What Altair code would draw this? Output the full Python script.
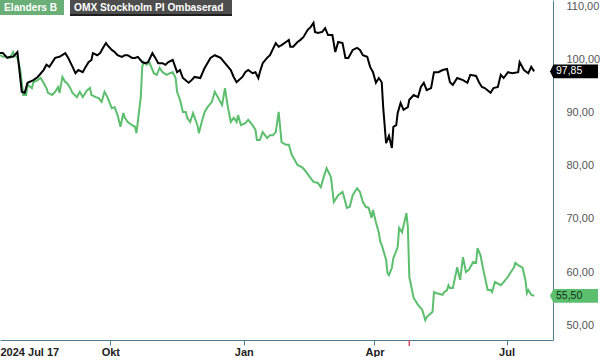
import altair as alt
import pandas as pd

# ---- data ----
START = "2024-07-17"

# OMX Stockholm PI (rebased) : days since start, value
omx_days = [0, 2, 5, 7, 9, 12, 15, 17, 19, 23, 26, 30, 32, 34, 38, 41, 45, 47, 50, 52,
            54, 57, 59, 61, 63, 64, 67, 69, 71, 73, 74, 77, 79, 81, 84, 86, 88, 91, 93, 95,
            98, 100, 102, 105, 107, 109, 112, 114, 116, 119, 122, 124, 126, 130, 132, 134, 138, 141, 145, 148,
            152, 155, 159, 161, 163, 167, 169, 171, 174, 176, 178, 179, 181, 184, 186, 190, 192, 194, 197, 199,
            200, 202, 205, 207, 209, 212, 214, 216, 217, 219, 222, 224, 226, 229, 231, 233, 236, 238, 240, 243,
            246, 248, 250, 253, 255, 257, 259, 261, 263, 264, 266, 268, 270, 271, 273, 274, 276, 278, 281, 282,
            285, 288, 290, 292, 294, 297, 299, 302, 305, 308, 310, 312, 315, 319, 322, 324, 328, 330, 332, 334,
            338, 340, 343, 345, 347, 350, 353, 357, 358, 361, 363, 364, 366, 368]
omx_vals = [101.3, 101.3, 100.4, 100.6, 100.6, 101.5, 94.0, 93.8, 95.7, 96.2, 96.8, 98.1, 99.1, 98.7, 100.4, 100.6, 101.3, 100.4, 98.7, 97.5,
            98.1, 97.7, 98.7, 99.6, 100.0, 101.3, 100.9, 101.3, 102.3, 103.2, 102.8, 101.9, 101.5, 100.9, 100.6, 100.9, 100.9, 100.4, 100.4, 100.6,
            99.6, 99.4, 99.6, 101.3, 100.4, 99.4, 99.4, 99.1, 99.6, 100.0, 97.7, 98.1, 96.6, 95.7, 96.2, 96.8, 96.6, 98.5, 100.4, 100.9,
            100.4, 99.4, 98.1, 96.8, 95.8, 96.8, 97.7, 98.1, 97.5, 97.7, 96.6, 97.7, 99.4, 100.4, 100.9, 103.2, 102.5, 102.8, 103.4, 103.8,
            102.5, 102.5, 103.4, 103.8, 104.3, 105.7, 106.2, 107.0, 105.3, 105.1, 105.3, 106.0, 104.7, 104.7, 101.5, 103.4, 103.2, 100.4, 100.4, 101.9,
            102.3, 101.9, 100.9, 100.6, 98.7, 97.7, 95.7, 96.6, 95.8, 91.1, 84.3, 85.7, 83.4, 87.4, 87.7, 90.0, 91.9, 90.6, 91.1, 92.5,
            93.4, 93.0, 94.9, 95.7, 94.3, 94.7, 97.7, 97.7, 98.1, 98.3, 95.8, 95.3, 96.6, 96.2, 95.7, 97.2, 97.0, 95.8, 94.9, 94.7,
            93.8, 94.7, 94.9, 97.2, 96.6, 97.7, 97.5, 97.7, 99.6, 98.1, 97.7, 97.5, 98.7, 97.85]

# Elanders B (rebased) : days since start, value
ela_days = [0, 2, 5, 7, 9, 10, 12, 14, 16, 18, 19, 22, 23, 26, 28, 30, 32, 33, 36, 38,
            40, 41, 43, 45, 46, 48, 50, 53, 55, 57, 60, 62, 63, 66, 68, 70, 72, 74, 77, 79,
            81, 83, 85, 86, 88, 91, 93, 94, 97, 98, 99, 101, 103, 106, 108, 110, 112, 115, 117, 119,
            121, 122, 124, 126, 128, 129, 131, 133, 136, 137, 139, 141, 143, 146, 148, 150, 153, 155, 157, 159,
            161, 163, 164, 166, 169, 171, 174, 176, 177, 179, 181, 184, 186, 188, 190, 192, 194, 197, 199, 201,
            205, 208, 210, 214, 216, 219, 221, 223, 225, 228, 230, 233, 236, 237, 239, 241, 243, 246, 248, 250,
            252, 254, 256, 257, 259, 261, 262, 263, 266, 267, 268, 270, 271, 274, 275, 277, 280, 281, 282, 285,
            288, 291, 293, 294, 298, 299, 301, 305, 306, 308, 309, 310, 312, 315, 317, 319, 321, 323, 324, 326,
            328, 329, 331, 333, 336, 338, 339, 341, 345, 347, 350, 352, 354, 355, 357, 360, 362, 363, 364, 366, 368]
ela_vals = [100.9, 100.6, 100.6, 100.4, 101.5, 100.9, 100.4, 98.1, 93.4, 93.4, 95.3, 94.7, 95.8, 96.2, 96.6, 95.7, 94.7, 93.8, 93.4, 94.0,
            94.9, 93.8, 96.8, 95.8, 95.7, 94.9, 93.8, 93.0, 94.0, 93.0, 94.3, 94.7, 93.4, 93.0, 92.8, 92.1, 94.0, 93.0, 90.9, 91.1,
            89.6, 87.4, 90.0, 89.1, 88.3, 87.7, 87.4, 86.2, 93.0, 98.7, 99.6, 99.1, 99.5, 97.5, 97.2, 98.5, 97.7, 97.2, 97.5, 97.7,
            96.6, 94.0, 92.5, 90.2, 90.2, 89.1, 88.3, 90.0, 87.7, 86.2, 88.3, 90.2, 91.1, 92.1, 94.0, 93.0, 91.5, 94.7, 91.1, 88.3,
            89.1, 88.3, 89.6, 87.7, 88.1, 88.7, 87.7, 86.8, 84.9, 84.9, 86.4, 85.3, 85.8, 85.8, 86.4, 90.2, 84.5, 84.0, 84.0, 82.1,
            80.2, 79.8, 79.2, 77.7, 77.0, 76.8, 76.0, 77.9, 79.6, 77.9, 73.2, 74.5, 75.1, 74.2, 72.1, 72.3, 74.5, 75.8, 75.1, 73.2,
            72.3, 72.1, 70.2, 71.7, 69.4, 67.4, 65.7, 65.1, 62.3, 59.8, 59.4, 60.8, 62.6, 64.7, 68.3, 67.5, 71.1, 68.5, 59.1, 55.1,
            53.8, 52.8, 50.9, 51.5, 52.5, 56.2, 56.0, 55.7, 56.2, 56.6, 57.5, 57.0, 57.0, 60.9, 58.5, 62.8, 60.0, 60.4, 60.9, 61.9,
            61.7, 64.5, 63.2, 60.4, 56.6, 56.6, 56.2, 58.1, 57.5, 58.1, 59.1, 60.0, 60.8, 61.7, 61.3, 60.8, 58.5, 56.0, 56.6, 55.7, 55.5]

series_names = ["Elanders B", "OMX Stockholm PI Ombaserad"]
series_colors = ["#5cbf6e", "#000000"]
last_labels = ["55,50", "97,85"]
last_values = [55.5, 97.85]
event_dates = ["2025-04-25"]
y_ticks = [50, 60, 70, 80, 90, 100, 110]

# ---- frames ----
start = pd.Timestamp(START)
df = pd.concat([
    pd.DataFrame({"date": start + pd.to_timedelta(ela_days, unit="D"), "value": ela_vals,
                  "series": series_names[0], "i": range(len(ela_days))}),
    pd.DataFrame({"date": start + pd.to_timedelta(omx_days, unit="D"), "value": omx_vals,
                  "series": series_names[1], "i": range(len(omx_days))}),
])
tags = pd.DataFrame({"series": series_names, "value": last_values, "label": last_labels,
                     "txt": ["#10301a", "#ffffff"]})
events = pd.DataFrame({"date": pd.to_datetime(event_dates)})

AXIS = "#4f7f8f"
FONT = "Liberation Sans"

xscale = alt.Scale(domain=[alt.DateTime(year=2024, month=7, date=17),
                           alt.DateTime(year=2025, month=8, date=2)])
yscale = alt.Scale(domain=[47.17, 111.32], nice=False, zero=False)

x_axis = alt.Axis(
    values=[alt.DateTime(year=2024, month=7, date=17), alt.DateTime(year=2024, month=10, date=1),
            alt.DateTime(year=2025, month=1, date=1), alt.DateTime(year=2025, month=4, date=1),
            alt.DateTime(year=2025, month=7, date=1)],
    labelExpr="month(datum.value)==0 ? 'Jan' : month(datum.value)==3 ? 'Apr' : month(datum.value)==9 ? 'Okt' : (date(datum.value)==17 ? '2024 Jul 17' : 'Jul')",
    title=None, grid=False, domainColor=AXIS, tickColor={"condition": {"test": "date(datum.value)==17", "value": "transparent"}, "value": AXIS},
    tickSize=5, labelFlush=True, labelFont=FONT, labelFontSize=11, labelFontWeight="bold",
    labelColor="#222222", labelPadding=1,
)
y_axis = alt.Axis(
    orient="right", values=y_ticks, labelExpr="replace(format(datum.value, '.2f'), '.', ',')",
    title=None, grid=False, ticks=False, domainColor=AXIS, labelFont=FONT, labelFontSize=11,
    labelColor="#555555", labelPadding=13,
)

lines = alt.Chart(df).mark_line(strokeWidth=2, interpolate="linear").encode(
    x=alt.X("date:T", scale=xscale, axis=x_axis),
    y=alt.Y("value:Q", scale=yscale, axis=y_axis),
    color=alt.Color("series:N", scale=alt.Scale(domain=series_names, range=series_colors), legend=None),
    order="i:Q",
    detail="series:N",
)

event_rule = alt.Chart(events).mark_rule(color="#d9466a", strokeWidth=1.5).encode(
    x=alt.X("date:T", scale=xscale), y=alt.value(340), y2=alt.value(346)
)

tag_shape = "M-1,0 L-0.86,-0.29 L1,-0.29 L1,0.29 L-0.86,0.29 Z"
tag_marks = alt.Chart(tags).mark_point(shape=tag_shape, filled=True, opacity=1, size=2304, strokeWidth=0).encode(
    x=alt.value(574),
    y=alt.Y("value:Q", scale=yscale),
    color=alt.Color("series:N", scale=alt.Scale(domain=series_names, range=series_colors), legend=None),
)
tag_text = alt.Chart(tags).mark_text(font=FONT, fontSize=10.5, align="left", baseline="middle").encode(
    x=alt.value(556),
    y=alt.Y("value:Q", scale=yscale),
    text="label:N",
    color=alt.Color("txt:N", scale=None),
)

# legend boxes at top-left
leg = pd.DataFrame({"name": series_names, "x0": [0, 70], "x1": [64, 232],
                    "fill": ["#6aae78", "#4d4d4d"]})
leg_box = alt.Chart(leg).mark_rect().encode(
    x=alt.X("x0:Q", scale=None), x2="x1:Q", y=alt.value(0), y2=alt.value(15),
    color=alt.Color("fill:N", scale=None),
)
leg_shadow = alt.Chart(leg[leg["x0"] == 70]).mark_rect(color="#1e1e1e").encode(
    x=alt.X("x0:Q", scale=None), x2="x1:Q", y=alt.value(14), y2=alt.value(16),
)
leg_text = alt.Chart(leg).mark_text(font=FONT, fontSize=10.2, fontWeight="bold", color="white",
                                    align="left", baseline="middle").encode(
    x=alt.X("x0:Q", scale=None), xOffset=alt.value(4), y=alt.value(8), text="name:N",
)

chart = alt.layer(lines, event_rule, leg_box, leg_shadow, leg_text, tag_marks, tag_text).resolve_scale(
    color="independent"
).properties(
    width=553, height=340,
    autosize=alt.AutoSizeParams(type="none"),
    padding={"left": 0, "top": 0, "right": 47, "bottom": 17},
).configure_view(stroke=None)

chart.save("out.html", embed_options={"renderer": "svg", "actions": False})
